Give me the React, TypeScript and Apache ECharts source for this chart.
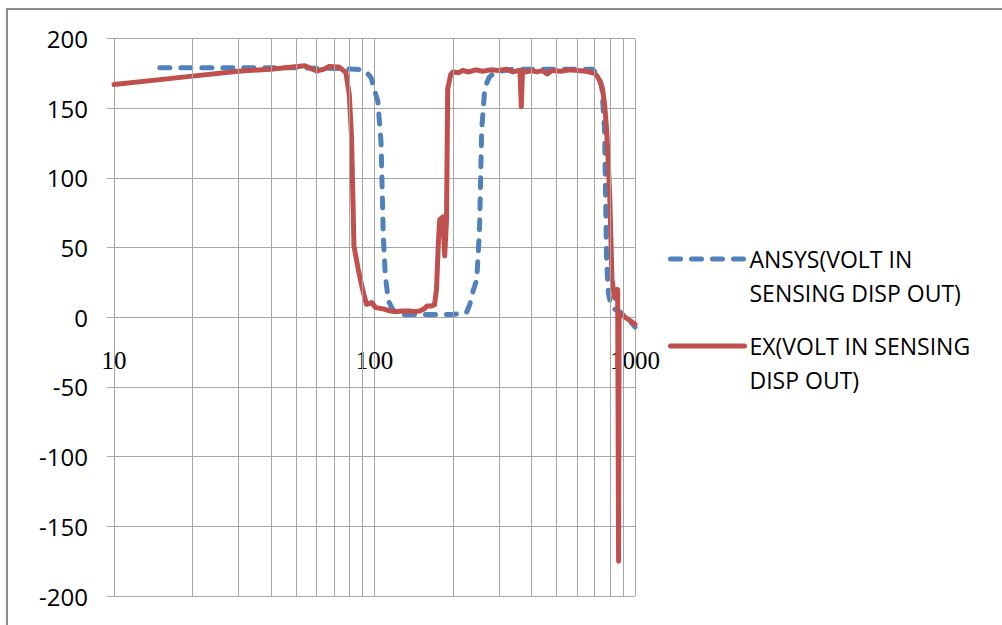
import React, { useEffect, useRef } from "react";
import * as echarts from "echarts";

const ansysName = "ANSYS(VOLT IN SENSING DISP OUT)";
const exName = "EX(VOLT IN SENSING DISP OUT)";

const ansysFreq = [15, 20, 30, 50, 70, 85, 92, 97, 100, 103, 106, 108, 110, 113, 117, 122, 130, 150, 200, 225, 232, 240, 247, 253, 258, 265, 275, 290, 340, 500, 650, 688, 720, 745, 764, 778, 790, 805, 830, 873, 950, 1000];
const ansysVolt = [179, 179, 179, 179, 178.5, 178, 177, 172, 163, 155, 125, 60, 30, 12, 6, 3, 2, 2, 2, 3, 9, 20, 27, 63, 135, 164, 172, 176, 178, 178, 178, 178, 174, 166, 135, 40, 18, 10, 6, 4, -2, -7];

const exFreq = [10, 15, 20, 30, 40, 54, 57, 60, 64, 67, 73, 77.6, 80, 81.6, 83.4, 86.6, 90, 93.2, 97.6, 101, 108, 115, 121, 128, 136, 142, 149, 155, 159, 165, 170, 173, 176, 178, 183, 186, 189, 191, 196, 200, 210, 218, 230, 245, 260, 280, 300, 320, 340, 355, 362, 366, 370, 380, 400, 420, 440, 460, 480, 520, 560, 600, 650, 700, 716, 735, 750, 765, 778, 790, 800, 816, 835, 850, 858, 865, 869, 900, 950, 1000];
const exVolt = [167, 170.5, 173, 176.5, 178, 180.5, 178.5, 176.7, 178, 180, 179.6, 175.7, 160, 130, 51, 34.5, 20, 9.3, 10.5, 6.9, 6, 4.5, 4, 4.5, 4.5, 4, 4.5, 6, 8, 8, 9, 20, 55, 70, 72, 44, 70, 164, 174, 176, 175.5, 177, 176, 177.5, 176.5, 177.5, 177, 178, 176, 177, 177, 151, 177, 176, 177, 176, 177, 174.5, 177, 176.5, 177.5, 177, 176.5, 175, 173, 169, 164, 152, 135, 110, 87, 27, 14, 13, 20, -175, 3, 1, -2, -5];

const minorGridFreqs = [20, 30, 40, 50, 60, 70, 80, 90, 200, 300, 400, 500, 600, 700, 800, 900];
const yMin = -200;
const yMax = 200;
const yStep = 50;
const xMin = 10;
const xMax = 1000;

const GRID_TOP = 38.5;
const GRID_BOTTOM = 29;
const CHART_H = 625;

const GRID = "#a6a6a6";
const BLUE = "#4F81BD";
const RED = "#C0504D";
const SANS = "'Open Sans', sans-serif";
const DASH = [10, 11];

function pairs(xs: number[], ys: number[]) {
  return xs.map((x, i) => [x, ys[i]]);
}

function legendCfg(name: string, top: number, color: string, dashed: boolean) {
  return {
    show: true,
    data: [name],
    left: 668,
    top,
    padding: 0,
    itemWidth: 74,
    itemHeight: 14,
    itemGap: 6,
    selectedMode: false,
    itemStyle: { opacity: 0 },
    lineStyle: { color, width: 5, type: dashed ? DASH : "solid", cap: "round" },
    formatter: (n: string) =>
      n === ansysName ? "\nANSYS(VOLT IN\nSENSING DISP OUT)" : "\nEX(VOLT IN SENSING\nDISP OUT)",
    textStyle: {
      fontFamily: SANS,
      fontSize: 23,
      lineHeight: 34,
      color: "#000",
    },
  };
}

export default function App() {
  const ref = useRef<HTMLDivElement>(null);
  useEffect(() => {
    if (!ref.current) return;
    const chart = echarts.init(ref.current, null, { renderer: "svg" });
    // place the x axis where y = 0 (the axis crosses the value axis at zero)
    const plotH = CHART_H - GRID_TOP - GRID_BOTTOM;
    const zeroOffset = -plotH * ((0 - yMin) / (yMax - yMin));
    chart.setOption({
      animation: false,
      backgroundColor: "#fff",
      grid: {
        left: 114,
        right: 367,
        top: GRID_TOP,
        bottom: GRID_BOTTOM,
        containLabel: false,
        outerBoundsMode: "none",
      },
      graphic: [
        {
          type: "rect",
          shape: { x: 7, y: 9, width: 1200, height: 800 },
          style: { fill: "none", stroke: "#8c8c8c", lineWidth: 2 },
          silent: true,
          z: -1,
        },
      ],
      legend: [legendCfg(ansysName, 208, BLUE, true), legendCfg(exName, 295, RED, false)],
      xAxis: {
        type: "log",
        logBase: 10,
        min: xMin,
        max: xMax,
        position: "bottom",
        offset: zeroOffset,
        axisLine: { show: true, onZero: false, lineStyle: { color: GRID, width: 1 } },
        axisTick: { show: true, length: 5, lineStyle: { color: GRID } },
        axisLabel: {
          show: true,
          margin: 31,
          fontFamily: "'Liberation Serif', serif",
          fontSize: 25,
          color: "#000",
          formatter: (v: number) => String(v),
        },
        splitLine: { show: true, lineStyle: { color: GRID, width: 1 } },
      },
      yAxis: {
        type: "value",
        min: yMin,
        max: yMax,
        interval: yStep,
        axisLine: { show: true, onZero: false, lineStyle: { color: GRID, width: 1 } },
        axisTick: { show: true, length: 7, lineStyle: { color: GRID } },
        axisLabel: { margin: 26, fontFamily: SANS, fontSize: 24, color: "#000" },
        splitLine: { show: true, lineStyle: { color: GRID, width: 1 } },
      },
      series: [
        {
          name: "minor-grid",
          type: "line",
          data: [],
          z: 1,
          silent: true,
          markLine: {
            silent: true,
            symbol: ["none", "none"],
            label: { show: false },
            lineStyle: { color: GRID, width: 1, type: "solid" },
            data: minorGridFreqs.map((f) => ({ xAxis: f })),
          },
        },
        {
          name: ansysName,
          type: "line",
          data: pairs(ansysFreq, ansysVolt),
          showSymbol: false,
          symbol: "none",
          z: 3,
          lineStyle: { color: BLUE, width: 5, type: DASH, cap: "round", join: "round" },
          itemStyle: { color: BLUE },
        },
        {
          name: exName,
          type: "line",
          data: pairs(exFreq, exVolt),
          showSymbol: false,
          symbol: "none",
          z: 4,
          lineStyle: { color: RED, width: 5, cap: "round", join: "round" },
          itemStyle: { color: RED },
        },
      ],
    });
    return () => chart.dispose();
  }, []);
  return (
    <div
      ref={ref}
      style={{ position: "fixed", left: 0, top: 0, width: 1002, height: 625, background: "#fff" }}
    />
  );
}
